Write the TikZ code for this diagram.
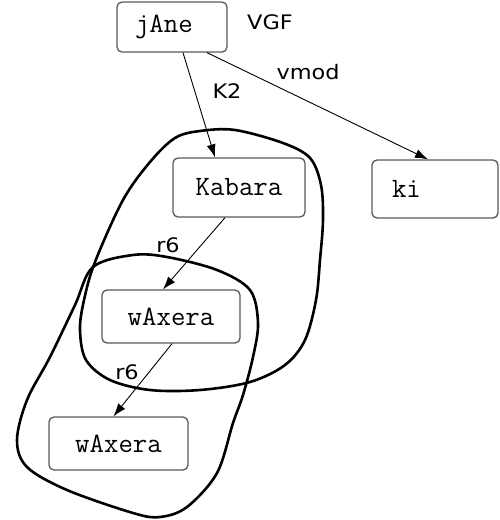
\documentclass[tikz,border=0pt]{standalone}
\usepackage{fontspec}
\setmainfont{DejaVu Sans}
\newfontfamily\lblfont[FakeStretch=1.12]{DejaVu Sans}
\usetikzlibrary{arrows.meta,calc}
\begin{document}
\begin{tikzpicture}[x=1pt,y=-1pt,
  wbox/.style={draw=black!65,line width=1.3pt,rounded corners=5pt,fill=white,
    font=\ttfamily\fontsize{28}{28}\selectfont,inner sep=0pt,anchor=center},
  lbl/.style={font=\lblfont\fontsize{20}{20}\selectfont,inner sep=0pt},
  conn/.style={line width=0.9pt,-{Latex[length=13pt,width=9pt]}},
  blob/.style={line width=2.6pt,black}]
\useasboundingbox (0,0) rectangle (500,520);
% blobs
\draw[blob] plot[smooth cycle,tension=0.55] coordinates {(235,130) (283,143) (310,158) (321,185) (323,220) (320,260) (316,300) (305,340) (285,365) (250,382) (200,390) (150,390) (110,380) (86,360) (80,330) (84,300) (95,262) (123,200) (150,162) (175,138) (200,131)};
\draw[blob] plot[smooth cycle,tension=0.55] coordinates {(133,255) (167,257) (217,270) (250,290) (258,323) (253,357) (243,395) (233,423) (217,473) (187,507) (160,517) (133,513) (67,490) (27,467) (17,440) (27,400) (50,357) (75,305) (93,267)};
% nodes
\node[wbox,minimum width=110pt,minimum height=50pt,text width=90pt,align=left,inner xsep=10pt] (jane) at (172,27) {\raisebox{3pt}{\hspace*{8pt}jAne}};
\node[wbox,minimum width=132pt,minimum height=59pt] (kabara) at (239,187.5) {Kabara};
\node[wbox,minimum width=126pt,minimum height=58pt,text width=86pt,align=left] (ki) at (435,189) {ki};
\node[wbox,minimum width=138pt,minimum height=53pt] (wax1) at (171,316.5) {wAxera};
\node[wbox,minimum width=139pt,minimum height=53pt] (wax2) at (118.5,443.5) {wAxera};
% labels
\node[lbl] (vgf) at (270,22) {VGF};
\node[lbl] (k2) at (227,91) {K2};
\node[lbl] (vmod) at (308,72) {vmod};
\node[lbl] (r6a) at (168,245) {r6};
\node[lbl] (r6b) at (127,372) {r6};
% connectors
\draw[conn] ($(jane.south)+(11,0)$) -- ($(kabara.north)+(-24,0)$);
\draw[conn] ($(jane.south)+(35,0)$) -- ($(ki.north)+(-7,0)$);
\draw[conn] ($(kabara.south)+(-14,0)$) -- ($(wax1.north)+(-8,0)$);
\draw[conn] ($(wax1.south)+(1,0)$) -- ($(wax2.north)+(-5,0)$);
\end{tikzpicture}
\end{document}
